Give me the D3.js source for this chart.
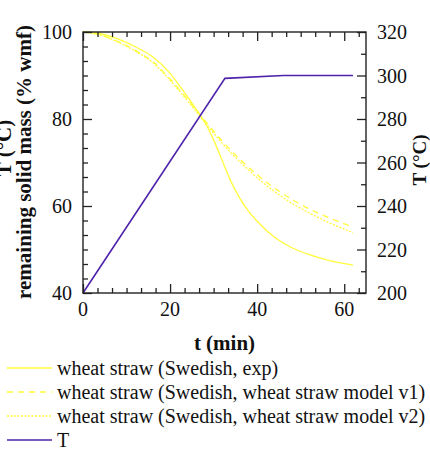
<!DOCTYPE html>
<html><head><meta charset="utf-8">
<script src="https://cdn.jsdelivr.net/npm/d3@7"></script>
<style>
html,body{margin:0;padding:0;background:#fff;}
svg{display:block;}
text{font-family:"Liberation Serif","Times New Roman",serif;fill:#111;}
</style></head>
<body>
<svg id="chart" width="430" height="450"></svg>
<script>
// ---- data ----
const timeExp = [0,4,8,12,16,20,23,26,28,30,32,34,36,38,40,44,48,52,56,62];
const massExp = [100,99.6,98.4,96.6,94.3,90.5,86.5,82.2,79.2,75.2,70.4,65.6,61.8,58.8,56.5,52.8,50.4,48.8,47.6,46.4];
const timeModel = [0,4,8,12,16,20,24,28,32,36,40,44,48,52,56,62];
const massV1 = [100,99.3,97.8,95.8,93.2,89.2,84.5,79.6,74.9,70.8,67.2,64.1,61.5,59.3,57.5,55.2];
const massV2 = [100,99.3,97.7,95.6,93.0,88.9,84.2,79.2,74.4,70.2,66.5,63.3,60.6,58.4,56.4,53.9];
const timeT = [0,32.6,46,62];
const tempT = [200,298.7,300,300];
const xTicks = [0,20,40,60];
const yLeftTicks = [40,60,80,100];
const yRightTicks = [200,220,240,260,280,300,320];
const seriesNames = ["wheat straw (Swedish, exp)","wheat straw (Swedish, wheat straw model v1)","wheat straw (Swedish, wheat straw model v2)","T"];

// ---- layout ----
const L = 83, R = 366, T = 32, B = 293;
const svg = d3.select("#chart");
const x = d3.scaleLinear().domain([0,65]).range([L,R]);
const yL = d3.scaleLinear().domain([40,100]).range([B,T]);
const yR = d3.scaleLinear().domain([200,320]).range([B,T]);

const yellow = "#ffff3c", purple = "#4e22aa";
const styles = [
  {color:yellow, dash:null, w:1.3},
  {color:yellow, dash:"6,5", w:1.3},
  {color:yellow, dash:"2,1.5", w:1.3},
  {color:purple, dash:null, w:1.6}
];

// ---- lines ----
const lineL = d3.line().x(d=>x(d[0])).y(d=>yL(d[1])).curve(d3.curveMonotoneX);
const lineR = d3.line().x(d=>x(d[0])).y(d=>yR(d[1]));
const g = svg.append("g");
const data = [
  {pts: d3.zip(timeExp, massExp), gen: lineL},
  {pts: d3.zip(timeModel, massV1), gen: lineL},
  {pts: d3.zip(timeModel, massV2), gen: lineL},
  {pts: d3.zip(timeT, tempT), gen: lineR}
];
data.forEach((s,i)=>{
  g.append("path").attr("d", s.gen(s.pts)).attr("fill","none")
   .attr("stroke", styles[i].color).attr("stroke-width", styles[i].w)
   .attr("stroke-dasharray", styles[i].dash);
});

// ---- axes (inward ticks) ----
const minorX = d3.range(0,65.01,20/6).filter(v=>!xTicks.some(t=>Math.abs(t-v)<1e-6));
const minorYL = d3.range(40,100.01,20/6).filter(v=>!yLeftTicks.some(t=>Math.abs(t-v)<1e-6));
const minorYR = d3.range(200,320.01,10).filter(v=>!yRightTicks.includes(v));
const axisStyle = a => a.call(s=>s.select(".domain").remove()).call(s=>s.selectAll("line").attr("stroke","#222").attr("stroke-width",1.3));

svg.append("g").attr("transform",`translate(0,${B})`).call(d3.axisBottom(x).tickValues(xTicks).tickSize(-9).tickPadding(0).tickFormat(""))
  .call(axisStyle);
svg.append("g").attr("transform",`translate(0,${B})`).call(d3.axisBottom(x).tickValues(minorX).tickSize(-5).tickFormat("")).call(axisStyle);
svg.append("g").attr("transform",`translate(0,${T})`).call(d3.axisTop(x).tickValues(xTicks).tickSize(-9).tickFormat("")).call(axisStyle);
svg.append("g").attr("transform",`translate(0,${T})`).call(d3.axisTop(x).tickValues(minorX).tickSize(-5).tickFormat("")).call(axisStyle);
svg.append("g").attr("transform",`translate(${L},0)`).call(d3.axisLeft(yL).tickValues(yLeftTicks).tickSize(-9).tickFormat("")).call(axisStyle);
svg.append("g").attr("transform",`translate(${L},0)`).call(d3.axisLeft(yL).tickValues(minorYL).tickSize(-5).tickFormat("")).call(axisStyle);
svg.append("g").attr("transform",`translate(${R},0)`).call(d3.axisRight(yR).tickValues(yRightTicks).tickSize(-9).tickFormat("")).call(axisStyle);
svg.append("g").attr("transform",`translate(${R},0)`).call(d3.axisRight(yR).tickValues(minorYR).tickSize(-5).tickFormat("")).call(axisStyle);

svg.append("rect").attr("x",L).attr("y",T).attr("width",R-L).attr("height",B-T)
  .attr("fill","none").attr("stroke","#222").attr("stroke-width",1.4);

// tick labels
const fs = 20;
svg.append("g").selectAll("text").data(xTicks).join("text")
  .attr("x",d=>x(d)).attr("y",316).attr("text-anchor","middle").attr("font-size",fs).text(d=>d);
svg.append("g").selectAll("text").data(yLeftTicks).join("text")
  .attr("x",72).attr("y",d=>yL(d)+7).attr("text-anchor","end").attr("font-size",fs).text(d=>d);
svg.append("g").selectAll("text").data(yRightTicks).join("text")
  .attr("x",377).attr("y",d=>yR(d)+7).attr("text-anchor","start").attr("font-size",fs).text(d=>d);

// titles
svg.append("text").attr("x",(L+R)/2).attr("y",350).attr("text-anchor","middle")
  .attr("font-size",21).attr("font-weight","bold").text("t (min)");
svg.append("text").attr("transform","translate(31,162) rotate(-90)").attr("text-anchor","middle")
  .attr("font-size",21).attr("font-weight","bold").text("remaining solid mass (% wmf)");
svg.append("text").attr("transform","translate(11,148) rotate(-90)").attr("text-anchor","middle")
  .attr("font-size",21).attr("font-weight","bold").text("T (°C)");
svg.append("text").attr("transform","translate(426,160) rotate(-90)").attr("text-anchor","middle")
  .attr("font-size",19).attr("font-weight","bold").text("T (°C)");

// legend
const legY = [368,392,416,440];
const leg = svg.append("g");
seriesNames.forEach((name,i)=>{
  leg.append("line").attr("x1",7).attr("x2",52).attr("y1",legY[i]).attr("y2",legY[i])
    .attr("stroke",styles[i].color).attr("stroke-width",styles[i].w).attr("stroke-dasharray",styles[i].dash);
  leg.append("text").attr("x",57).attr("y",legY[i]+7).attr("font-size",fs).text(name);
});
</script>
</body></html>
